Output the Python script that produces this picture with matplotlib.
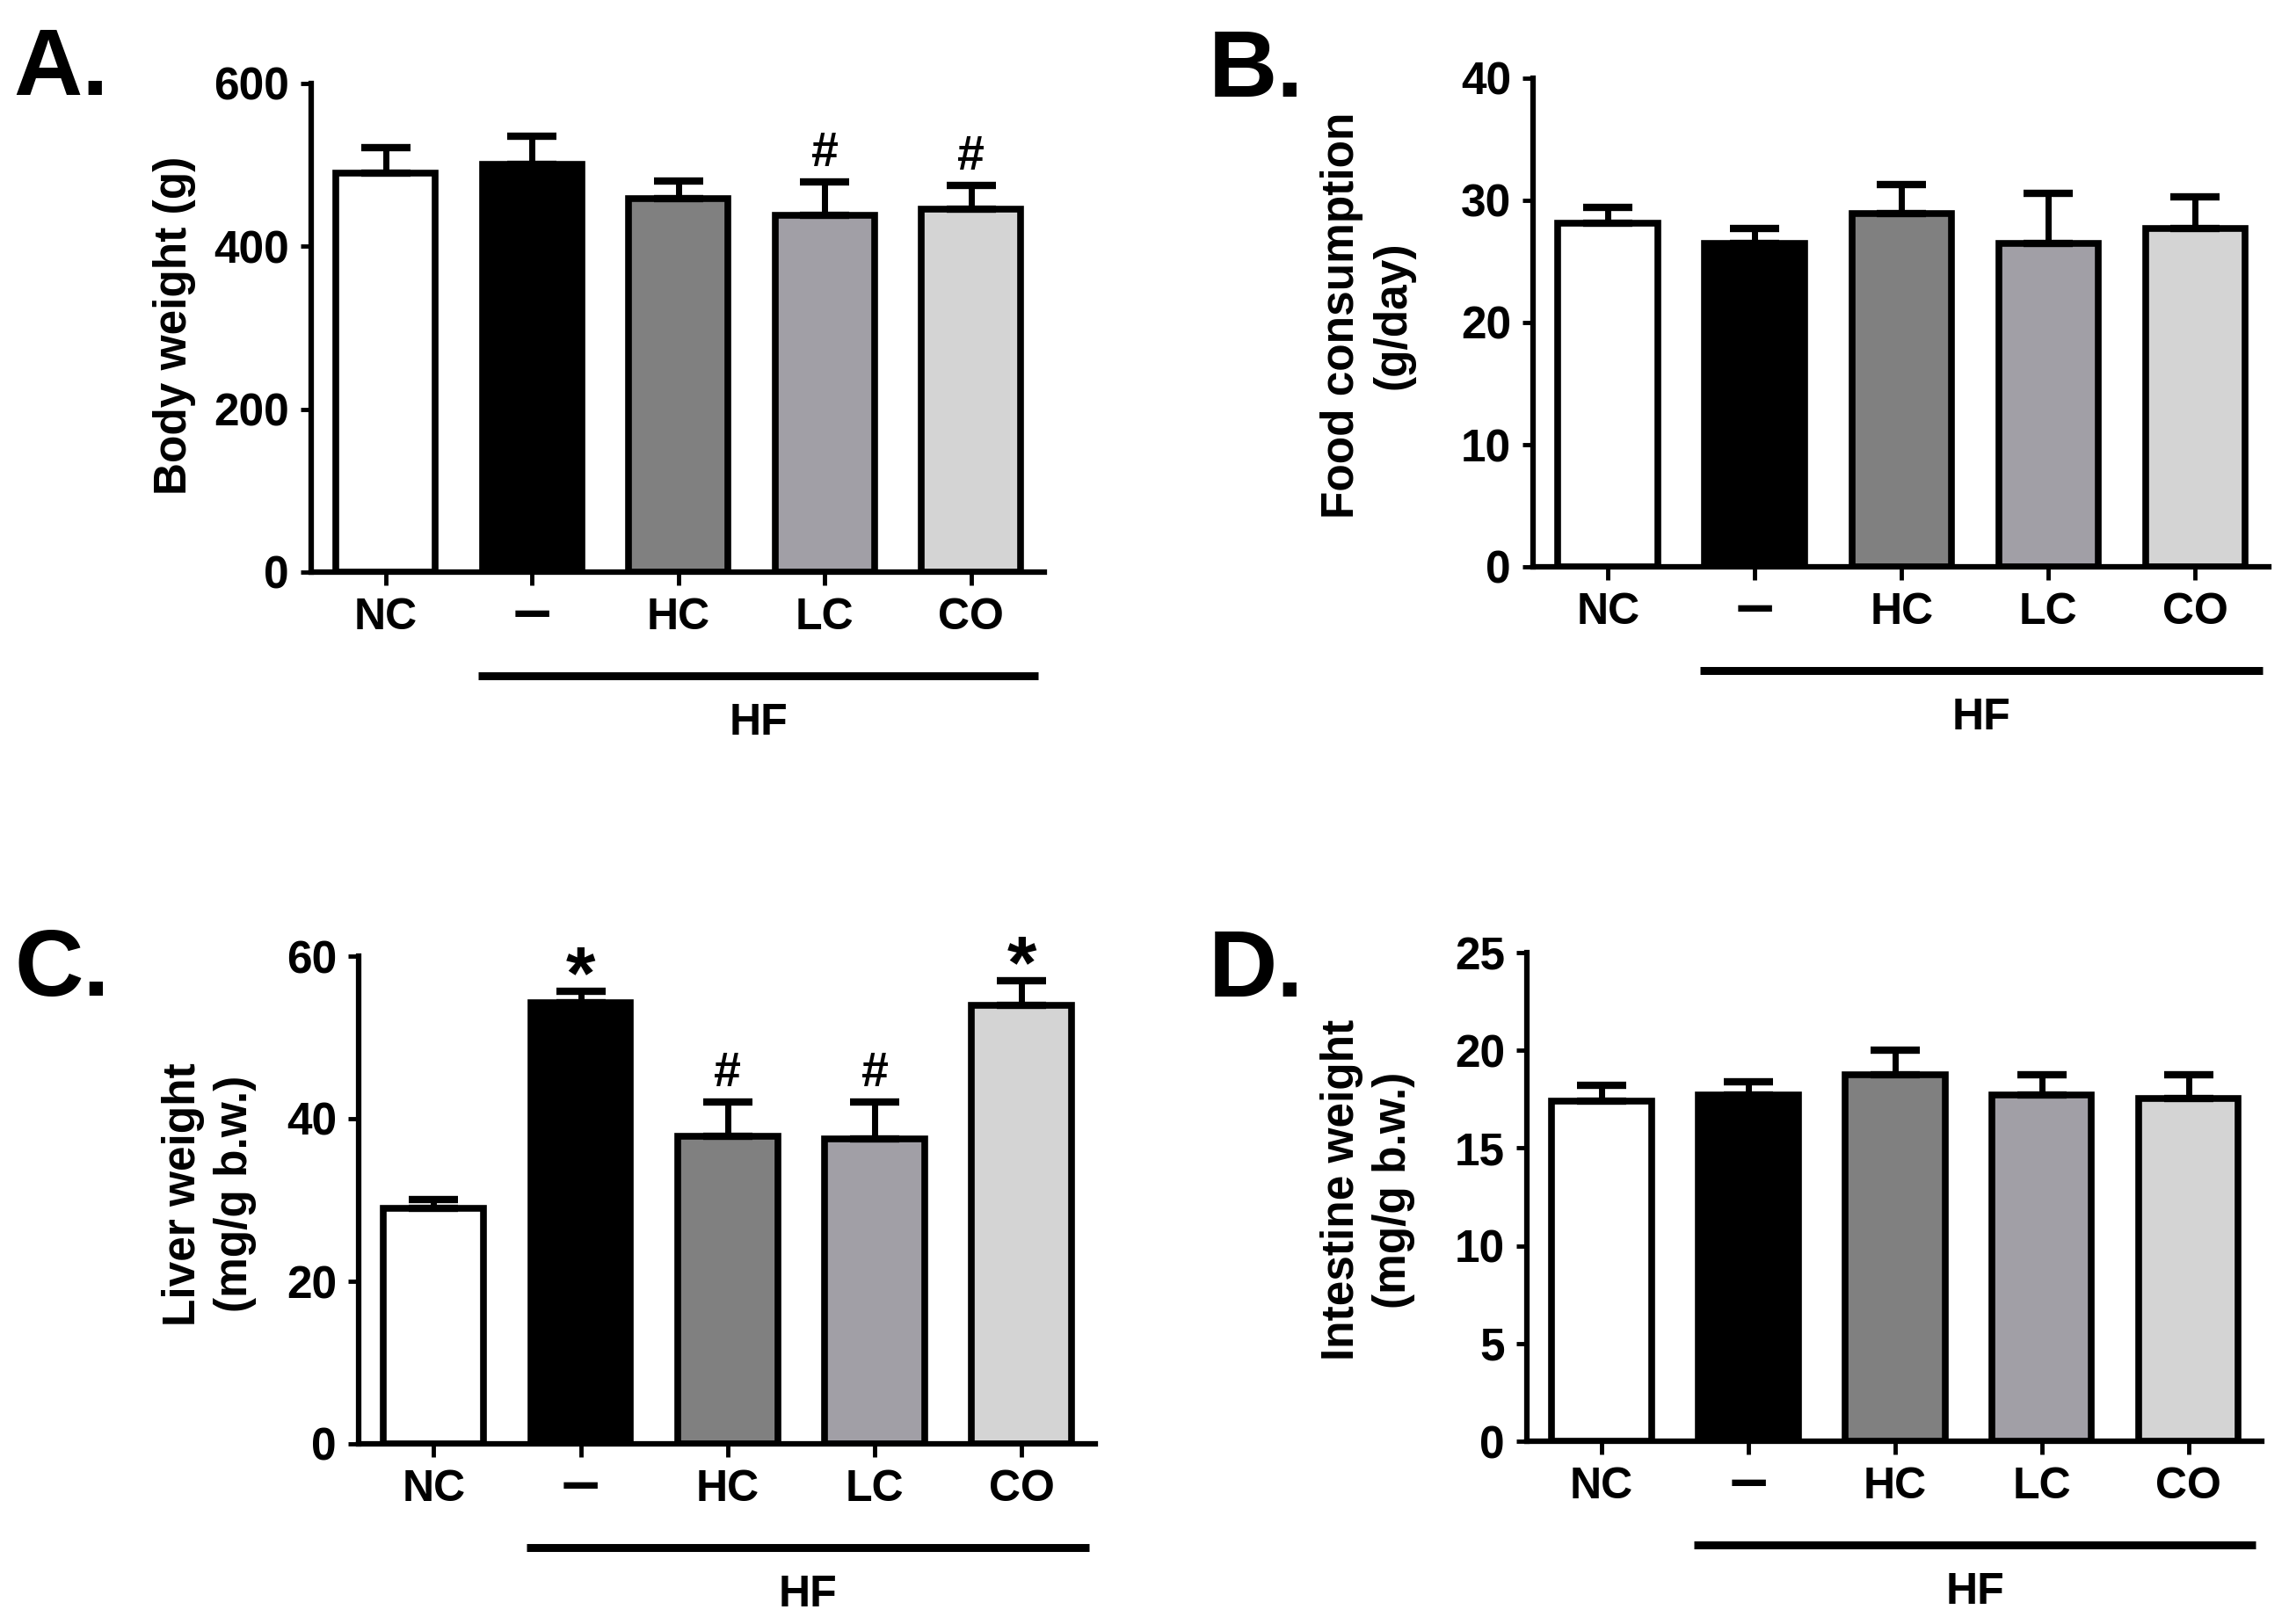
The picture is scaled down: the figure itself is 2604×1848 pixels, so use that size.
import numpy as np
import matplotlib
matplotlib.use("Agg")
import matplotlib.pyplot as plt
from matplotlib.transforms import ScaledTranslation

plt.rcParams['font.family'] = ['Liberation Sans', 'DejaVu Sans']
plt.rcParams['font.weight'] = 'bold'

# groups on the x axis
groups = ['NC', '–', 'HC', 'LC', 'CO']
bar_colors = ['#ffffff', '#000000', '#808080', '#a19fa6', '#d4d4d4']

# panel A: body weight
body_mean = [490, 501, 459, 438, 446]
body_err = [31, 34, 21, 41, 29]
body_marks = ['', '', '', '#', '#']

# panel B: food consumption
food_mean = [28.1, 26.5, 28.9, 26.5, 27.7]
food_err = [1.3, 1.2, 2.4, 4.1, 2.6]
food_marks = ['', '', '', '', '']

# panel C: liver weight
liver_mean = [29.0, 54.3, 37.8, 37.5, 54.0]
liver_err = [1.1, 1.4, 4.3, 4.6, 3.0]
liver_marks = ['', '*', '#', '#', '*']

# panel D: intestine weight
intest_mean = [17.4, 17.7, 18.75, 17.7, 17.55]
intest_err = [0.8, 0.7, 1.25, 1.05, 1.2]
intest_marks = ['', '', '', '', '']

W, H = 2604, 1848
fig = plt.figure(figsize=(W / 100, H / 100), dpi=100)


def px_axes(left, right, top, bottom):
    return fig.add_axes([left / W, (H - bottom) / H, (right - left) / W, (bottom - top) / H])


def draw_panel(ax, means, errs, marks, ymax, step, label, label_xy, letter, letter_xy):
    x = np.arange(len(groups))
    ax.bar(x, means, width=0.68, color=bar_colors, edgecolor='black', linewidth=5.5, zorder=2)
    ax.errorbar(x, means, yerr=[np.zeros(len(errs)), errs], fmt='none', ecolor='black',
                elinewidth=5, capsize=20, capthick=6, zorder=3)
    for xi, m, e, s in zip(x, means, errs, marks):
        if s == '#':
            ax.annotate(s, (xi, m + e), xytext=(0, 13), textcoords='offset points',
                        ha='center', va='baseline', fontsize=40, fontweight='bold')
        elif s == '*':
            ax.annotate(s, (xi, m + e), xytext=(0, -6), textcoords='offset points',
                        ha='center', va='baseline', fontsize=62, fontweight='bold')
    ax.set_xlim(-0.51, 4.5)
    ax.set_ylim(0, ymax)
    ax.set_yticks(np.arange(0, ymax + step / 2, step))
    ax.set_xticks(x)
    ax.set_xticklabels(groups)
    for side in ['top', 'right']:
        ax.spines[side].set_visible(False)
    for side in ['left', 'bottom']:
        ax.spines[side].set_linewidth(4.5)
    ax.tick_params(axis='x', length=11, width=3.5, pad=10, labelsize=36)
    ax.tick_params(axis='y', length=9, width=3.5, pad=9, labelsize=37)
    for t in ax.get_xticklabels() + ax.get_yticklabels():
        t.set_fontweight('bold')
    # the dash label is drawn bigger and lifted to sit level with the others
    dash = ax.get_xticklabels()[1]
    dash.set_fontsize(56)
    dash.set_transform(dash.get_transform() + ScaledTranslation(0, 13 / 72, fig.dpi_scale_trans))

    ax.set_ylabel(label, fontsize=37, fontweight='bold', linespacing=1.25)
    ax.yaxis.label.set_va('center')
    ax.yaxis.set_label_coords(*label_xy)

    # HF bracket under the treated groups
    trans = ax.get_xaxis_transform()
    ax.plot([0.63, 4.46], [-0.212, -0.212], color='black', linewidth=6.5,
            transform=trans, clip_on=False, solid_capstyle='butt')
    ax.text((0.63 + 4.46) / 2, -0.31, 'HF', transform=trans, ha='center', va='center',
            fontsize=36, fontweight='bold')

    fig.text(letter_xy[0] / W, 1 - letter_xy[1] / H, letter, ha='center', va='center',
             fontsize=78, fontweight='bold')


axA = px_axes(354, 1188, 95, 651)
draw_panel(axA, body_mean, body_err, body_marks, 600, 200, 'Body weight (g)',
           (-0.187, 0.505), 'A.', (69, 80))

axB = px_axes(1744, 2581, 89, 645)
draw_panel(axB, food_mean, food_err, food_marks, 40, 10, 'Food consumption\n(g/day)',
           (-0.225, 0.514), 'B.', (1429, 82))

axC = px_axes(408, 1246, 1088, 1643)
draw_panel(axC, liver_mean, liver_err, liver_marks, 60, 20, 'Liver weight\n(mg/g b.w.)',
           (-0.203, 0.512), 'C.', (71, 1105))

axD = px_axes(1737, 2573, 1084, 1640)
draw_panel(axD, intest_mean, intest_err, intest_marks, 25, 5, 'Intestine weight\n(mg/g b.w.)',
           (-0.2165, 0.514), 'D.', (1429, 1106))

fig.savefig('out.png', dpi=100, facecolor='white')
